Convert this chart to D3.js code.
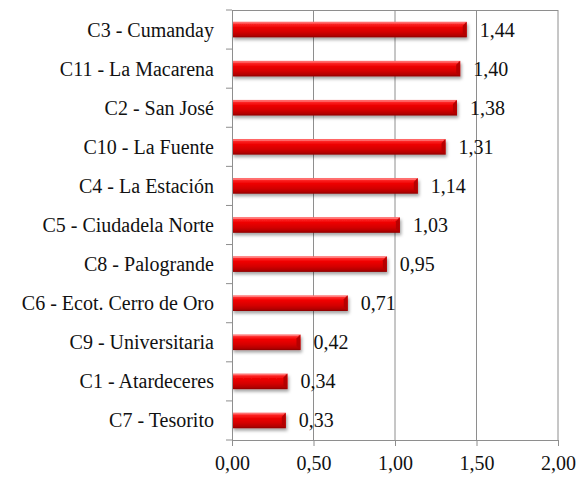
<!DOCTYPE html>
<html>
<head>
<meta charset="utf-8">
<script src="https://cdn.jsdelivr.net/npm/d3@7"></script>
<style>
  html, body { margin: 0; padding: 0; background: #fff; }
  svg { display: block; }
</style>
</head>
<body>
<div id="chart"></div>
<script>
const categories = [
  "C3 - Cumanday",
  "C11 - La Macarena",
  "C2 - San José",
  "C10 - La Fuente",
  "C4 - La Estación",
  "C5 - Ciudadela Norte",
  "C8 - Palogrande",
  "C6 - Ecot. Cerro de Oro",
  "C9 - Universitaria",
  "C1 - Atardeceres",
  "C7 - Tesorito"
];
const values = [1.44, 1.40, 1.38, 1.31, 1.14, 1.03, 0.95, 0.71, 0.42, 0.34, 0.33];
const tickValues = [0, 0.5, 1.0, 1.5, 2.0];

const W = 586, H = 477;
const margin = { left: 232, right: 28, top: 10, bottom: 37 };
const iw = W - margin.left - margin.right;
const ih = H - margin.top - margin.bottom;

const fmt = v => d3.format(".2f")(v).replace(".", ",");

const svg = d3.select("#chart").append("svg")
  .attr("width", W).attr("height", H);

const defs = svg.append("defs");
const grad = defs.append("linearGradient")
  .attr("id", "barGrad").attr("x1", 0).attr("y1", 0).attr("x2", 0).attr("y2", 1);
[
  [0, "#ff6a6a"], [0.12, "#ff2a2a"], [0.35, "#ee0000"],
  [0.65, "#d40000"], [0.88, "#b30000"], [1, "#8a0000"]
].forEach(([o, c]) => grad.append("stop").attr("offset", o).attr("stop-color", c));

const shadow = defs.append("filter").attr("id", "shadow")
  .attr("x", "-10%").attr("y", "-30%").attr("width", "130%").attr("height", "190%");
shadow.append("feDropShadow").attr("dx", 1.5).attr("dy", 2.5)
  .attr("stdDeviation", 1.5).attr("flood-color", "#000").attr("flood-opacity", 0.35);

const x = d3.scaleLinear().domain([0, 2]).range([0, iw]);
const y = d3.scaleBand().domain(categories).range([0, ih]).paddingInner(0.6).paddingOuter(0.3);
const yb = d3.scaleBand().domain(categories).range([0, ih]);

const g = svg.append("g").attr("transform", `translate(${margin.left},${margin.top})`);

// gridlines
g.append("g").selectAll("line").data(tickValues.slice(1)).join("line")
  .attr("x1", d => x(d)).attr("x2", d => x(d))
  .attr("y1", 0).attr("y2", ih)
  .attr("stroke", "#8e8e8e").attr("stroke-width", 1);
g.append("line").attr("x1", 0).attr("x2", iw).attr("y1", 0.5).attr("y2", 0.5)
  .attr("stroke", "#8e8e8e");

// bars
const bars = g.append("g").selectAll("g").data(categories).join("g");
const bh = y.bandwidth();
bars.append("rect")
  .attr("x", 0)
  .attr("y", d => y(d))
  .attr("width", (d, i) => x(values[i]))
  .attr("height", bh)
  .attr("fill", "url(#barGrad)")
  .attr("filter", "url(#shadow)");
const bev = 4;
bars.append("path")
  .attr("d", (d, i) => {
    const xe = x(values[i]), y0 = y(d);
    return `M${xe - bev},${y0 + bev} L${xe},${y0} L${xe},${y0 + bh} L${xe - bev},${y0 + bh - bev} Z`;
  })
  .attr("fill", "#b00000").attr("opacity", 0.9);
bars.append("line")
  .attr("x1", 0).attr("x2", (d, i) => x(values[i]) - 2)
  .attr("y1", d => y(d) + 1.2).attr("y2", d => y(d) + 1.2)
  .attr("stroke", "#ff9a9a").attr("stroke-width", 1).attr("opacity", 0.7);

// value labels
g.append("g").selectAll("text").data(categories).join("text")
  .attr("class", "lbl")
  .attr("x", (d, i) => x(values[i]) + 13)
  .attr("y", d => y(d) + bh / 2)
  .attr("dy", "0.35em")
  .text((d, i) => fmt(values[i]));

// x axis
const xAxis = g.append("g").attr("transform", `translate(0,${ih})`)
  .call(d3.axisBottom(x).tickValues(tickValues).tickSize(6).tickPadding(10).tickFormat(fmt));
xAxis.select(".domain").attr("stroke", "#8e8e8e");
xAxis.selectAll(".tick line").attr("stroke", "#8e8e8e");
xAxis.selectAll(".tick text").attr("class", "lbl");

g.append("line").attr("x1", 0.5).attr("x2", 0.5).attr("y1", 0).attr("y2", ih + 6)
  .attr("stroke", "#8e8e8e");
const bounds = categories.map(c => yb(c)).concat([ih]);
g.append("g").selectAll("line").data(bounds).join("line")
  .attr("x1", -6).attr("x2", 0)
  .attr("y1", d => d).attr("y2", d => d)
  .attr("stroke", "#8e8e8e");

// category labels
g.append("g").selectAll("text").data(categories).join("text")
  .attr("class", "lbl")
  .attr("x", -18)
  .attr("y", d => yb(d) + yb.bandwidth() / 2)
  .attr("dy", "0.35em")
  .attr("text-anchor", "end")
  .text(d => d);

svg.selectAll("text.lbl")
  .attr("font-family", "Liberation Serif")
  .attr("font-size", 20)
  .attr("fill", "#111")
  .style("font-family", "\"Liberation Serif\", \"DejaVu Serif\"");
</script>
</body>
</html>
